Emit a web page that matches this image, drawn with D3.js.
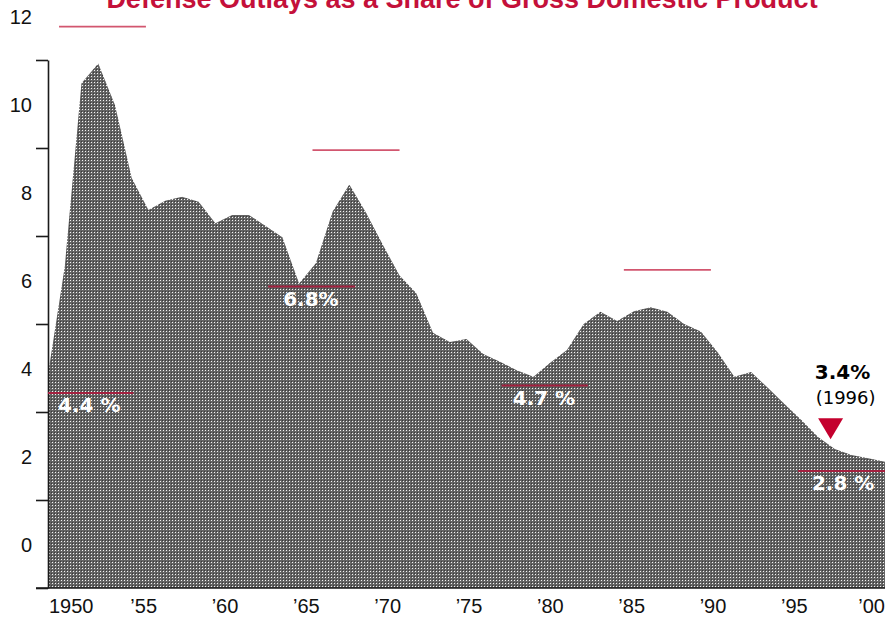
<!DOCTYPE html>
<html>
<head>
<meta charset="utf-8">
<script src="https://cdn.jsdelivr.net/npm/d3@7"></script>
<style>
  body { margin: 0; background: #fff; }
  svg { display: block; }
</style>
</head>
<body>
<div id="chart"></div>
<script>
//Chart data
const years = [1950, 1951, 1952, 1953, 1954, 1955, 1956, 1957, 1958, 1959,
               1960, 1961, 1962, 1963, 1964, 1965, 1966, 1967, 1968, 1969,
               1970, 1971, 1972, 1973, 1974, 1975, 1976, 1977, 1978, 1979,
               1980, 1981, 1982, 1983, 1984, 1985, 1986, 1987, 1988, 1989,
               1990, 1991, 1992, 1993, 1994, 1995, 1996, 1997, 1998, 1999, 2000];
const outlays = [4.85, 7.3, 11.47, 11.92, 10.98, 9.32, 8.59, 8.80, 8.89, 8.78,
                 8.29, 8.48, 8.48, 8.23, 7.97, 6.92, 7.38, 8.55, 9.17, 8.53,
                 7.80, 7.10, 6.70, 5.80, 5.59, 5.66, 5.32, 5.14, 4.95, 4.80,
                 5.12, 5.41, 6.00, 6.28, 6.07, 6.29, 6.38, 6.28, 6.00, 5.83,
                 5.36, 4.80, 4.91, 4.55, 4.18, 3.82, 3.43, 3.16, 3.02, 2.95, 2.87];

const yTicks = [0, 2, 4, 6, 8, 10, 12];
const xTickYears = [1950, 1955, 1960, 1965, 1970, 1975, 1980, 1985, 1990, 1995, 2000];
const xTickLabels = ["1950", "\u201955", "\u201960", "\u201965", "\u201970", "\u201975",
                     "\u201980", "\u201985", "\u201990", "\u201995", "\u201900"];

//period averages (dark red lines inside the area)
const avgLabels = ["4.4 %", "6.8%", "4.7 %", "2.8 %"];
const avgLevels = [4.43, 6.85, 4.6, 2.66];
const avgStart = [1950, 1963.15, 1977.1, 1994.8];
const avgEnd = [1955.1, 1968.35, 1982.25, 2000];

//light red lines above the area
const topLevels = [12.76, 9.95, 7.23];
const topStart = [1950.66, 1965.8, 1984.4];
const topEnd = [1955.85, 1971.0, 1989.6];

const calloutYear = 1996.75;
const calloutValue = 3.38;
const calloutText = ["3.4%", "(1996)"];

const title = "Defense Outlays as a Share of Gross Domestic Product";

//CONFIG
const width = 895, height = 617;
const plotLeft = 48, plotRight = 885, plotTop = 60, plotBottom = 588;
const redText = "#c4103a";

const svg = d3.select("#chart").append("svg")
  .attr("width", width)
  .attr("height", height);

// dotted halftone fill
const pat = svg.append("defs").append("pattern")
  .attr("id", "dots")
  .attr("patternUnits", "userSpaceOnUse")
  .attr("width", 3).attr("height", 3);
pat.append("rect").attr("width", 3).attr("height", 3).attr("fill", "#646464");
pat.append("rect").attr("x", 1).attr("y", 1).attr("width", 1).attr("height", 1).attr("fill", "#f4f4f4");
pat.append("rect").attr("x", 0).attr("y", 0).attr("width", 1).attr("height", 1).attr("fill", "#3a3a3a");

const x = d3.scaleLinear().domain([1950, 2000]).range([plotLeft, plotRight]);
const y = d3.scaleLinear().domain([0, 12]).range([plotBottom, plotTop]);
//the year labels sit on their own spacing in the original
const xLab = d3.scaleLinear().domain([1950, 1995]).range([48.5, 780.5]);

const area = d3.area()
  .x((d, i) => x(years[i]))
  .y0(y(0))
  .y1(d => y(d));

svg.append("path")
  .datum(outlays)
  .attr("d", area)
  .attr("fill", "url(#dots)");

// Y axis, labels sit half a step above their ticks like the original
const yAxis = svg.append("g")
  .attr("transform", "translate(" + plotLeft + ",0)")
  .call(d3.axisLeft(y).tickValues(yTicks).tickSize(12).tickSizeOuter(0).tickFormat(d3.format("d")));
yAxis.selectAll("path, line").attr("stroke", "#1a1a1a").attr("stroke-width", 1.6);
yAxis.selectAll("text")
  .attr("x", -16)
  .attr("y", -37)
  .attr("dy", 0)
  .attr("fill", "#111")
  .style("font-family", "'Liberation Sans', Arial, sans-serif")
  .style("font-size", "20px");

// baseline
svg.append("line")
  .attr("x1", plotLeft - 12).attr("x2", plotRight)
  .attr("y1", y(0)).attr("y2", y(0))
  .attr("stroke", "#1a1a1a").attr("stroke-width", 1.6);

// X axis labels
const xAxis = svg.append("g")
  .attr("transform", "translate(0," + y(0) + ")")
  .call(d3.axisBottom(xLab).tickValues(xTickYears).tickSize(0)
    .tickFormat((d, i) => xTickLabels[i]));
xAxis.select(".domain").remove();
xAxis.selectAll("text")
  .attr("y", 25)
  .attr("dy", 0)
  .attr("text-anchor", "start")
  .attr("fill", "#111")
  .style("font-family", "'Liberation Sans', Arial, sans-serif")
  .style("font-size", "20px");
//last label is pushed to end at the right edge
xAxis.selectAll(".tick").filter(d => d === 2000)
  .attr("transform", "translate(" + plotRight + ",0)")
  .select("text").attr("text-anchor", "end");

// light lines above the area
svg.selectAll(".topline")
  .data(topLevels)
  .enter()
  .append("line")
  .attr("x1", (d, i) => x(topStart[i]))
  .attr("x2", (d, i) => x(topEnd[i]))
  .attr("y1", d => y(d))
  .attr("y2", d => y(d))
  .attr("stroke", "#d2566f")
  .attr("stroke-width", 1.8);

// period average lines + white labels
svg.selectAll(".avgline")
  .data(avgLevels)
  .enter()
  .append("line")
  .attr("x1", (d, i) => x(avgStart[i]))
  .attr("x2", (d, i) => x(avgEnd[i]))
  .attr("y1", d => y(d))
  .attr("y2", d => y(d))
  .attr("stroke", "#a3203f")
  .attr("stroke-width", 2);

const labelDx = [10, 15, 11, 14];
svg.selectAll(".avglabel")
  .data(avgLevels)
  .enter()
  .append("text")
  .attr("x", (d, i) => x(avgStart[i]) + labelDx[i])
  .attr("y", d => y(d) + 19)
  .attr("fill", "#fff")
  .style("font-family", "'DejaVu Sans', Verdana, sans-serif")
  .style("font-weight", "bold")
  .style("font-size", "20px")
  .text((d, i) => avgLabels[i]);

// 1996 callout
const cx = x(calloutYear), cy = y(calloutValue);
svg.append("path")
  .attr("d", "M" + (cx - 12.5) + "," + (cy - 21) + "L" + (cx + 12.5) + "," + (cy - 21) + "L" + cx + "," + cy + "Z")
  .attr("fill", "#c4002e");
svg.append("text")
  .attr("x", cx + 12)
  .attr("y", 379)
  .attr("text-anchor", "middle")
  .attr("fill", "#000")
  .style("font-family", "'DejaVu Sans', Verdana, sans-serif")
  .style("font-weight", "bold")
  .style("font-size", "20px")
  .text(calloutText[0]);
svg.append("text")
  .attr("x", cx + 15)
  .attr("y", 404)
  .attr("text-anchor", "middle")
  .attr("fill", "#000")
  .style("font-family", "'DejaVu Sans', Verdana, sans-serif")
  .style("font-size", "18px")
  .text(calloutText[1]);

// title, cut off at the top edge like the original
svg.append("text")
  .attr("x", 462)
  .attr("y", 8)
  .attr("text-anchor", "middle")
  .attr("fill", redText)
  .style("font-family", "'Liberation Sans', Arial, sans-serif")
  .style("font-weight", "bold")
  .style("font-size", "27px")
  .text(title);
</script>
</body>
</html>
